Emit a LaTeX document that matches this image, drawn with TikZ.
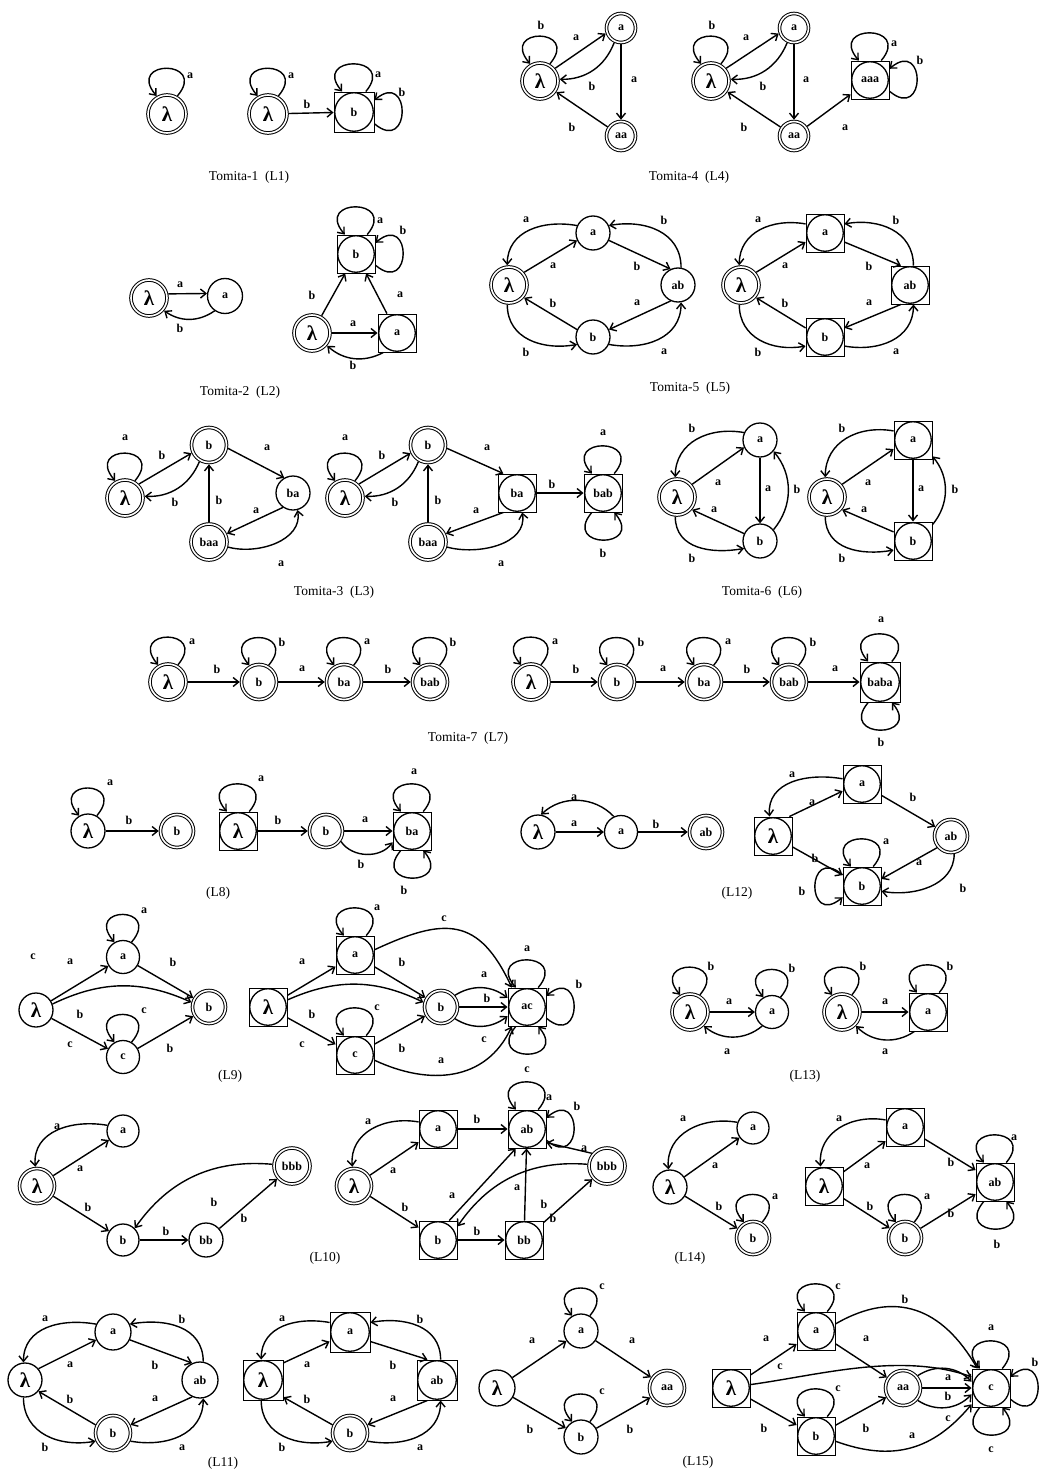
\documentclass[tikz,border=0pt]{standalone}
\usepackage{fontspec}
\setmainfont{Liberation Serif}
\usetikzlibrary{arrows.meta}
\newcounter{lbc}
\newcommand\lamf{\bfseries\fontsize{21}{21}\selectfont}
\tikzset{
 st/.style={draw, circle, inner sep=0pt, minimum size=33pt, line width=1.3pt, font=\bfseries\fontsize{12}{12}\selectfont},
 acc/.style={st, double, double distance=1.6pt, line width=1pt, outer sep=1.8pt},
 bx/.style={draw, rectangle, inner sep=0pt, minimum size=38pt, line width=0.9pt},
 lam/.style={font=\lamf},
 lbl/.style={inner sep=0pt, font=\bfseries\fontsize{12}{12}\selectfont},
 capt/.style={inner sep=0pt, font=\fontsize{13.5}{13.5}\selectfont},
 ed/.style={line width=1.4pt, -{Straight Barb[length=5.5pt,width=9pt]}},
}
\newcommand\Lb[3]{\stepcounter{lbc}\node[lbl] (lb\arabic{lbc}) at (#1,-#2) {#3};}
\newcommand\Nd[5]{\node[#1] (#2) at (#3,-#4) {#5};}
\newcommand\Bst[5]{\node[bx,minimum size=#5] (#1) at (#2,-#3) {};\node[st,minimum size=#5-1.5] (#1c) at (#2,-#3) {#4};}
\newcommand\Lp[2]{%
 \pgfmathtruncatemacro\lpS{#2-30}\pgfmathtruncatemacro\lpE{#2+30}%
 \pgfmathtruncatemacro\lpSc{#2-40}\pgfmathtruncatemacro\lpEc{#2+40}%
 \draw[ed] (#1.\lpS) .. controls +(\lpSc:48) and +(\lpEc:48) .. (#1.\lpE);}
\newcommand\Dmd[4]{%
 \draw[ed] (#1.40) -- (#2.205);
 \draw[ed] (#2.155) to[out=170,in=90,looseness=1.1] (#1.95);
 \draw[ed] (#2.-25) -- (#3.115);
 \draw[ed] (#3.80) to[out=90,in=10,looseness=1.1] (#2.25);
 \draw[ed] (#4.155) -- (#1.-40);
 \draw[ed] (#1.-95) to[out=-90,in=190,looseness=1.1] (#4.-155);
 \draw[ed] (#3.-115) -- (#4.25);
 \draw[ed] (#4.-25) to[out=-10,in=-90,looseness=1.1] (#3.-80);}
\newcommand\Tri[3]{%
 \draw[ed] (#1.40) -- (#2.205);
 \draw[ed] (#2.155) to[out=170,in=90,looseness=1.1] (#1.95);
 \draw[ed] (#2) -- (#3);
 \draw[ed] (#3.40) to[bend right=40] (#2.-40);
 \draw[ed] (#3.155) -- (#1.-40);
 \draw[ed] (#1.-95) to[out=-90,in=190,looseness=1.1] (#3.-155);}
\begin{document}
\begin{tikzpicture}[x=1pt,y=1pt]
\fill[white] (0,0) rectangle (1040,-1474);
\useasboundingbox (0,0) rectangle (1040,-1474);
% ---------------- Tomita-1
\Nd{acc,lam,minimum size=38}{ta}{167}{114}{λ}
\Lp{ta}{90} \Lb{190}{76}{a}
\Nd{acc,lam,minimum size=38}{tb}{268}{114}{λ}
\Lp{tb}{90} \Lb{291}{76}{a}
\Bst{tc}{354}{112}{b}{40}
\draw[ed] (tb) -- (tc); \Lb{307}{104}{b}
\Lp{tc}{90} \Lb{378}{75}{a}
\Lp{tc}{0} \Lb{402}{92}{b}
\node[capt] (cap1) at (249,-177) {Tomita-1\enspace(L1)};
% ---------------- Tomita-4
\Nd{acc,lam,minimum size=36}{da}{540}{81}{λ}
\Nd{acc,minimum size=29}{db}{621}{28}{a}
\Nd{acc,minimum size=29}{dc}{621}{136}{aa}
\Lp{da}{90} \Lb{541}{25}{b}
\draw[ed] (da.40) -- (db.200); \Lb{576}{38}{a}
\draw[ed] (db.245) to[bend left=35] (da.5); \Lb{592}{86}{b}
\draw[ed] (db) -- (dc); \Lb{634}{80}{a}
\draw[ed] (dc) -- (da); \Lb{572}{127}{b}
\Nd{acc,lam,minimum size=36}{dd}{711}{81}{λ}
\Nd{acc,minimum size=29}{de}{794}{28}{a}
\Nd{acc,minimum size=29}{df}{794}{136}{aa}
\Bst{dg}{870}{80}{aaa}{38}
\Lp{dd}{90} \Lb{712}{25}{b}
\draw[ed] (dd.40) -- (de.200); \Lb{746}{38}{a}
\draw[ed] (de.245) to[bend left=35] (dd.5); \Lb{763}{86}{b}
\draw[ed] (de) -- (df); \Lb{806}{80}{a}
\draw[ed] (df) -- (dd); \Lb{744}{127}{b}
\draw[ed] (df) -- (dg); \Lb{845}{128}{a}
\Lp{dg}{90} \Lb{894}{44}{a}
\Lp{dg}{0} \Lb{920}{60}{b}
\node[capt] (cap4) at (689,-177) {Tomita-4\enspace(L4)};
% ---------------- Tomita-2
\Nd{acc,lam,minimum size=36}{ea}{149}{298}{λ}
\Nd{st,minimum size=35}{eb}{225}{296}{a}
\draw[ed] (ea.12) -- (eb.172); \Lb{180}{285}{a}
\draw[ed] (eb.235) to[bend left=35] (ea.-40); \Lb{180}{328}{b}
\Bst{ec}{356}{254}{b}{38}
\Nd{acc,lam,minimum size=36}{e4}{312}{333}{λ}
\Bst{ee}{397}{333}{a}{38}
\draw[ed] (e4) -- (ec); \Lb{312}{295}{b}
\draw[ed] (ee) -- (ec); \Lb{400}{295}{a}
\draw[ed] (e4) -- (ee); \Lb{353}{324}{a}
\draw[ed] (ee.-125) to[bend left=35] (e4.-40); \Lb{353}{365}{b}
\Lp{ec}{90} \Lb{380}{221}{a}
\Lp{ec}{0} \Lb{403}{230}{b}
\node[capt] (cap2) at (240,-392) {Tomita-2\enspace(L2)};
% ---------------- Tomita-5
\Nd{acc,lam,minimum size=36}{fa}{509}{285}{λ}
\Nd{st,minimum size=34}{fb}{593}{233}{a}
\Nd{st,minimum size=34}{fc}{678}{285}{ab}
\Nd{st,minimum size=34}{fd}{593}{337}{b}
\Dmd{fa}{fb}{fc}{fd}
\Lb{553}{266}{a}\Lb{526}{220}{a}\Lb{637}{266}{b}\Lb{664}{220}{b}
\Lb{553}{303}{b}\Lb{526}{352}{b}\Lb{637}{303}{a}\Lb{664}{352}{a}
\Nd{acc,lam,minimum size=36}{fe}{741}{285}{λ}
\Bst{ff}{825}{233}{a}{38}
\Bst{fg}{910}{285}{ab}{38}
\Bst{fh}{825}{337}{b}{38}
\Dmd{fe}{ff}{fg}{fh}
\Lb{785}{266}{a}\Lb{758}{220}{a}\Lb{869}{266}{b}\Lb{896}{220}{b}
\Lb{785}{303}{b}\Lb{758}{352}{b}\Lb{869}{303}{a}\Lb{896}{352}{a}
\node[capt] (cap5) at (690,-388) {Tomita-5\enspace(L5)};
% ---------------- Tomita-3
\Nd{acc,lam,minimum size=36}{ga}{125}{498}{λ}
\Nd{acc,minimum size=35}{gb}{209}{445}{b}
\Nd{st,minimum size=34}{gc}{293}{493}{ba}
\Nd{acc,minimum size=36}{gd}{209}{542}{baa}
\Lp{ga}{90} \Lb{125}{438}{a}
\draw[ed] (ga.45) -- (gb.205); \Lb{162}{455}{b}
\draw[ed] (gb.240) to[bend left=35] (ga.5); \Lb{175}{502}{b}
\draw[ed] (gb.-10) -- (gc.120); \Lb{267}{448}{a}
\draw[ed] (gd) -- (gb); \Lb{219}{500}{b}
\draw[ed] (gc.-125) -- (gd.25); \Lb{256}{511}{a}
\draw[ed] (gd.-15) to[out=-15,in=-80] (gc.-75); \Lb{281}{564}{a}
\Nd{acc,lam,minimum size=36}{ge}{345}{498}{λ}
\Nd{acc,minimum size=35}{gf}{428}{445}{b}
\Bst{gg}{517}{493}{ba}{38}
\Nd{acc,minimum size=36}{gh}{428}{542}{baa}
\Bst{gi}{603}{493}{bab}{38}
\Lp{ge}{90} \Lb{345}{438}{a}
\draw[ed] (ge.45) -- (gf.205); \Lb{382}{455}{b}
\draw[ed] (gf.240) to[bend left=35] (ge.5); \Lb{395}{502}{b}
\draw[ed] (gf.-10) -- (gg.125); \Lb{487}{448}{a}
\draw[ed] (gh) -- (gf); \Lb{438}{500}{b}
\draw[ed] (gg.-125) -- (gh.25); \Lb{476}{511}{a}
\draw[ed] (gh.-15) to[out=-15,in=-80] (gg.-75); \Lb{501}{564}{a}
\draw[ed] (gg) -- (gi); \Lb{552}{484}{b}
\Lp{gi}{90} \Lb{603}{433}{a}
\Lp{gi}{270} \Lb{603}{553}{b}
\node[capt] (cap3) at (334,-592) {Tomita-3\enspace(L3)};
% ---------------- Tomita-6
\Nd{acc,lam,minimum size=36}{ha}{677}{497}{λ}
\Nd{st,minimum size=34}{hb}{760}{440}{a}
\Nd{st,minimum size=34}{hc}{760}{541}{b}
\Tri{ha}{hb}{hc}
\Lb{718}{483}{a}\Lb{692}{428}{b}\Lb{768}{489}{a}\Lb{797}{489}{b}\Lb{714}{510}{a}\Lb{692}{558}{b}
\Nd{acc,lam,minimum size=36}{hd}{827}{497}{λ}
\Bst{he}{913}{440}{a}{38}
\Bst{hf}{913}{541}{b}{38}
\Tri{hd}{he}{hf}
\Lb{868}{483}{a}\Lb{842}{428}{b}\Lb{921}{489}{a}\Lb{955}{489}{b}\Lb{864}{510}{a}\Lb{842}{558}{b}
\node[capt] (cap6) at (762,-592) {Tomita-6\enspace(L6)};
% ---------------- Tomita-7
\Nd{acc,lam,minimum size=36}{ka}{168}{682}{λ}
\Nd{acc,minimum size=35}{kb}{259}{682}{b}
\Nd{acc,minimum size=35}{kc}{344}{682}{ba}
\Nd{acc,minimum size=35}{kd}{430}{682}{bab}
\Lp{ka}{90}\Lp{kb}{90}\Lp{kc}{90}\Lp{kd}{90}
\Lb{192}{642}{a}\Lb{282}{642}{b}\Lb{367}{642}{a}\Lb{453}{642}{b}
\draw[ed] (ka)--(kb); \draw[ed] (kb)--(kc); \draw[ed] (kc)--(kd);
\Lb{217}{669}{b}\Lb{302}{669}{a}\Lb{388}{669}{b}
\Nd{acc,lam,minimum size=36}{ke}{531}{682}{λ}
\Nd{acc,minimum size=35}{kf}{617}{682}{b}
\Nd{acc,minimum size=35}{kg}{704}{682}{ba}
\Nd{acc,minimum size=35}{kh}{789}{682}{bab}
\Bst{ki}{880}{682}{baba}{40}
\Lp{ke}{90}\Lp{kf}{90}\Lp{kg}{90}\Lp{kh}{90}\Lp{ki}{90}\Lp{ki}{270}
\Lb{555}{642}{a}\Lb{641}{642}{b}\Lb{728}{642}{a}\Lb{813}{642}{b}\Lb{881}{620}{a}\Lb{881}{742}{b}
\draw[ed] (ke)--(kf); \draw[ed] (kf)--(kg); \draw[ed] (kg)--(kh); \draw[ed] (kh)--(ki);
\Lb{576}{669}{b}\Lb{663}{669}{a}\Lb{747}{669}{b}\Lb{835}{669}{a}
\node[capt] (cap7) at (468,-738) {Tomita-7\enspace(L7)};
% ---------------- L8
\Nd{st,lam,minimum size=34}{ma}{88}{831}{λ}
\Nd{acc,minimum size=33}{mb}{177}{831}{b}
\Lp{ma}{90} \Lb{110}{783}{a}
\draw[ed] (ma)--(mb); \Lb{129}{820}{b}
\Bst{mc}{238}{831}{\lamf λ}{38}
\Nd{acc,minimum size=33}{md}{326}{831}{b}
\Bst{me}{412}{831}{ba}{38}
\Lp{mc}{90} \Lb{261}{779}{a}
\draw[ed] (mc)--(md); \Lb{278}{820}{b}
\draw[ed] (md)--(me); \Lb{365}{820}{a}
\draw[ed] (md.-35) to[bend right=55] (me.-150); \Lb{361}{864}{b}
\Lp{me}{90} \Lb{414}{772}{a}
\Lp{me}{270} \Lb{404}{890}{b}
\node[capt] (cap8) at (218,-893) {(L8)};
% ---------------- L12
\Nd{st,lam,minimum size=34}{na}{538}{832}{λ}
\Nd{st,minimum size=33}{nb}{621}{832}{a}
\Nd{acc,minimum size=33}{nc}{706}{832}{ab}
\draw[ed] (na) -- (nb); \Lb{574}{824}{a}
\draw[ed] (nb.115) to[bend right=45] (na.80); \Lb{574}{798}{a}
\draw[ed] (nb) -- (nc); \Lb{656}{824}{b}
\Bst{nd}{773}{836}{\lamf λ}{38}
\Bst{ne}{862}{784}{a}{38}
\Nd{acc,minimum size=33}{nf}{951}{836}{ab}
\Bst{ng}{862}{886}{b}{38}
\draw[ed] (ne.165) to[out=170,in=95,looseness=1.1] (nd.100); \Lb{792}{775}{a}
\draw[ed] (nd.50) -- (ne.200); \Lb{812}{803}{a}
\draw[ed] (ne) -- (nf); \Lb{913}{797}{b}
\draw[ed] (nd) -- (ng); \Lb{815}{858}{b}
\draw[ed] (nf.-140) -- (ng.20); \Lb{919}{863}{a}
\draw[ed] (nf.-80) to[out=-90,in=-10] (ng.-15); \Lb{963}{888}{b}
\Lp{ng}{90} \Lb{886}{842}{a}
\Lp{ng}{180} \Lb{802}{891}{b}
\node[capt] (cap12) at (737,-893) {(L12)};
% ---------------- L9
\node[lbl] (stray) at (33,-957) {c};
\Nd{st,lam,minimum size=34}{pa}{36}{1010}{λ}
\Nd{st,minimum size=33}{pb}{123}{957}{a}
\Nd{st,minimum size=33}{pc}{123}{1057}{c}
\Nd{acc,minimum size=33}{pd}{209}{1007}{b}
\draw[ed] (pa) -- (pb); \Lb{70}{962}{a}
\Lp{pb}{90} \Lb{144}{911}{a}
\draw[ed] (pb) -- (pd); \Lb{173}{962}{b}
\draw[ed] (pa.20) to[bend left=25] (pd.165); \Lb{80}{1014}{b}
\Lp{pc}{90} \Lb{144}{1011}{c}
\draw[ed] (pa) -- (pc); \Lb{70}{1045}{c}
\draw[ed] (pc) -- (pd); \Lb{170}{1048}{b}
\Bst{pe}{268}{1007}{\lamf λ}{38}
\Bst{pf}{355}{955}{a}{38}
\Bst{pg}{355}{1055}{c}{38}
\Nd{acc,minimum size=33}{ph}{441}{1007}{b}
\Bst{pi}{527}{1007}{ac}{38}
\draw[ed] (pe) -- (pf); \Lb{302}{962}{a}
\Lp{pf}{90} \Lb{377}{908}{a}
\draw[ed] (pf.15) to[out=25,in=115,looseness=1.4] (pi.128); \Lb{444}{919}{c}
\draw[ed] (pf) -- (ph); \Lb{402}{962}{b}
\draw[ed] (pe.20) to[bend left=25] (ph.165); \Lb{312}{1014}{b}
\Lp{pg}{90} \Lb{377}{1008}{c}
\draw[ed] (pe) -- (pg); \Lb{302}{1045}{c}
\draw[ed] (pg) -- (ph); \Lb{402}{1048}{b}
\draw[ed] (pg.-15) to[out=-25,in=-115,looseness=1.1] (pi.-128); \Lb{441}{1061}{a}
\draw[ed] (ph.40) to[bend left=35] (pi.155); \Lb{484}{975}{a}
\draw[ed] (ph) -- (pi); \Lb{487}{998}{b}
\draw[ed] (ph.-40) to[bend right=35] (pi.-155); \Lb{484}{1040}{c}
\Lp{pi}{90} \Lb{527}{949}{a}
\Lp{pi}{0} \Lb{579}{984}{b}
\Lp{pi}{270} \Lb{527}{1070}{c}
\node[capt] (cap9) at (230,-1076) {(L9)};
% ---------------- L13
\Nd{acc,lam,minimum size=36}{qa}{690}{1012}{λ}
\Nd{st,minimum size=33}{qb}{772}{1012}{a}
\Lp{qa}{90} \Lb{711}{966}{b}
\Lp{qb}{90} \Lb{792}{968}{b}
\draw[ed] (qa) -- (qb); \Lb{729}{1002}{a}
\draw[ed] (qb.-125) to[bend left=40] (qa.-45); \Lb{727}{1052}{a}
\Nd{acc,lam,minimum size=36}{qc}{842}{1012}{λ}
\Bst{qd}{928}{1012}{a}{38}
\Lp{qc}{90} \Lb{863}{966}{b}
\Lp{qd}{90} \Lb{950}{966}{b}
\draw[ed] (qc) -- (qd); \Lb{885}{1002}{a}
\draw[ed] (qd.-125) to[bend left=40] (qc.-45); \Lb{885}{1052}{a}
\node[capt] (cap13) at (805,-1076) {(L13)};
% ---------------- L10
\Nd{acc,lam,minimum size=35}{ra}{37}{1186}{λ}
\Nd{st,minimum size=32}{rb}{123}{1131}{a}
\Nd{acc,minimum size=36}{rc}{292}{1166}{bbb}
\Nd{st,minimum size=32}{rd}{123}{1240}{b}
\Nd{st,minimum size=34}{re}{206}{1240}{bb}
\draw[ed] (rb.160) to[out=170,in=95,looseness=1.1] (ra.95); \Lb{57}{1127}{a}
\draw[ed] (ra) -- (rb); \Lb{80}{1169}{a}
\draw[ed] (ra) -- (rd); \Lb{88}{1207}{b}
\draw[ed] (rc.175) to[bend right=30] (rd.45); \Lb{214}{1202}{b}
\draw[ed] (rd) -- (re); \Lb{166}{1231}{b}
\draw[ed] (re) -- (rc); \Lb{244}{1218}{b}
\Nd{acc,lam,minimum size=35}{rf}{354}{1186}{λ}
\Bst{rg}{438}{1129}{a}{38}
\Bst{rh}{527}{1129}{ab}{38}
\Nd{acc,minimum size=36}{ri}{607}{1166}{bbb}
\Bst{rj}{438}{1240}{b}{38}
\Bst{rk}{524}{1240}{bb}{38}
\draw[ed] (rg.160) to[out=170,in=95,looseness=1.1] (rf.95); \Lb{368}{1122}{a}
\draw[ed] (rf) -- (rg); \Lb{393}{1171}{a}
\draw[ed] (rg) -- (rh); \Lb{477}{1119}{b}
\Lp{rh}{90} \Lb{549}{1098}{a}
\Lp{rh}{0} \Lb{577}{1106}{b}
\draw[ed] (rj.60) -- (rh.-120); \Lb{452}{1196}{a}
\draw[ed] (rk) -- (rh); \Lb{517}{1188}{a}
\draw[ed] (ri.140) -- (rh.-35); \Lb{584}{1149}{a}
\draw[ed] (ri.175) to[bend right=30] (rj.35); \Lb{544}{1204}{b}
\draw[ed] (rf) -- (rj); \Lb{405}{1207}{b}
\draw[ed] (rj) -- (rk); \Lb{477}{1231}{b}
\draw[ed] (rk) -- (ri); \Lb{553}{1218}{b}
\node[capt] (cap10) at (325,-1258) {(L10)};
% ---------------- L14
\Nd{st,lam,minimum size=34}{ua}{670}{1187}{λ}
\Nd{st,minimum size=32}{ub}{753}{1128}{a}
\Nd{acc,minimum size=33}{uc}{753}{1238}{b}
\draw[ed] (ub.160) to[out=170,in=95,looseness=1.1] (ua.95); \Lb{683}{1119}{a}
\draw[ed] (ua) -- (ub); \Lb{715}{1166}{a}
\draw[ed] (ua) -- (uc); \Lb{719}{1206}{b}
\Lp{uc}{90} \Lb{775}{1197}{a}
\Bst{ud}{824}{1186}{\lamf λ}{38}
\Bst{ue}{905}{1127}{a}{38}
\Nd{acc,minimum size=33}{uf}{905}{1238}{b}
\Bst{ug}{995}{1182}{ab}{38}
\draw[ed] (ue.160) to[out=170,in=95,looseness=1.1] (ud.100); \Lb{839}{1119}{a}
\draw[ed] (ud) -- (ue); \Lb{867}{1166}{a}
\draw[ed] (ue) -- (ug); \Lb{951}{1162}{b}
\Lp{uf}{90} \Lb{927}{1197}{a}
\draw[ed] (ud) -- (uf); \Lb{870}{1206}{b}
\draw[ed] (uf) -- (ug); \Lb{951}{1213}{b}
\Lp{ug}{90} \Lb{1014}{1138}{a}
\Lp{ug}{270} \Lb{997}{1244}{b}
\node[capt] (cap14) at (690,-1258) {(L14)};
% ---------------- L11
\Nd{st,lam,minimum size=34}{wa}{25}{1380}{λ}
\Nd{st,minimum size=36}{wb}{113}{1332}{a}
\Nd{st,minimum size=36}{wc}{200}{1380}{ab}
\Nd{acc,minimum size=35}{wd}{113}{1433}{b}
\Dmd{wa}{wb}{wc}{wd}
\Lb{45}{1319}{a}\Lb{70}{1365}{a}\Lb{155}{1365}{b}\Lb{182}{1319}{b}
\Lb{70}{1399}{b}\Lb{45}{1447}{b}\Lb{155}{1399}{a}\Lb{182}{1448}{a}
\Bst{we}{263}{1380}{\lamf λ}{40}
\Bst{wf}{350}{1332}{a}{40}
\Bst{wg}{437}{1380}{ab}{40}
\Nd{acc,minimum size=35}{wh}{350}{1433}{b}
\Dmd{we}{wf}{wg}{wh}
\Lb{282}{1319}{a}\Lb{307}{1365}{a}\Lb{393}{1365}{b}\Lb{420}{1319}{b}
\Lb{307}{1399}{b}\Lb{282}{1447}{b}\Lb{393}{1399}{a}\Lb{420}{1448}{a}
\node[capt] (cap11) at (223,-1463) {(L11)};
% ---------------- L15
\Nd{st,lam,minimum size=36}{xa}{497}{1388}{λ}
\Nd{st,minimum size=34}{xb}{581}{1331}{a}
\Nd{st,minimum size=34}{xc}{581}{1437}{b}
\Nd{acc,minimum size=35}{xd}{667}{1388}{aa}
\draw[ed] (xa)--(xb); \Lb{532}{1341}{a}
\Lp{xb}{90} \Lb{602}{1287}{c}
\draw[ed] (xb)--(xd); \Lb{632}{1341}{a}
\draw[ed] (xa)--(xc); \Lb{530}{1429}{b}
\Lp{xc}{90} \Lb{602}{1392}{c}
\draw[ed] (xc)--(xd); \Lb{630}{1429}{b}
\Bst{xe}{731}{1388}{\lamf λ}{38}
\Bst{xf}{816}{1331}{a}{38}
\Bst{xg}{816}{1436}{b}{38}
\Nd{acc,minimum size=35}{xh}{903}{1388}{aa}
\Bst{xi}{991}{1388}{c}{38}
\draw[ed] (xe)--(xf); \Lb{766}{1339}{a}
\Lp{xf}{90} \Lb{838}{1287}{c}
\draw[ed] (xf.20) to[out=30,in=120,looseness=1.2] (xi.125); \Lb{905}{1299}{b}
\draw[ed] (xf)--(xh); \Lb{866}{1339}{a}
\draw[ed] (xe.10) .. controls (820,-1375) and (900,-1352) .. (xi.150); \Lb{780}{1367}{c}
\draw[ed] (xh.40) to[bend left=40] (xi.162);
\draw[ed] (xh) -- (xi);
\draw[ed] (xh.-40) to[bend right=40] (xi.-162);
\Lb{948}{1378}{a}\Lb{948}{1396}{b}\Lb{948}{1419}{c}
\Lp{xg}{90} \Lb{838}{1389}{c}
\draw[ed] (xe)--(xg); \Lb{764}{1428}{b}
\draw[ed] (xg)--(xh); \Lb{866}{1428}{b}
\draw[ed] (xg.-15) to[out=-20,in=-130,looseness=1.1] (xi.-140); \Lb{912}{1436}{a}
\Lp{xi}{90} \Lb{991}{1328}{a}
\Lp{xi}{0} \Lb{1035}{1362}{b}
\Lp{xi}{270} \Lb{991}{1450}{c}
\node[capt] (cap15) at (698,-1462) {(L15)};
\end{tikzpicture}
\end{document}
